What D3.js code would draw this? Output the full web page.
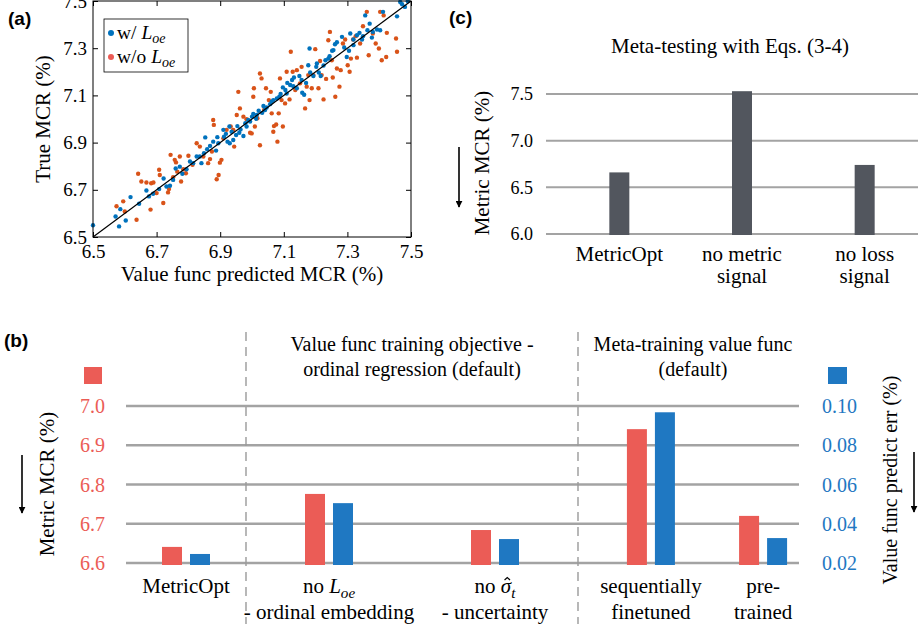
<!DOCTYPE html>
<html>
<head>
<meta charset="utf-8">
<script src="https://cdn.jsdelivr.net/npm/d3@7"></script>
<style>
	body { margin: 0; background: #fff; }
	svg { display: block; }
	svg text { font-family: 'Liberation Serif', 'DejaVu Serif', serif; }
	svg text.panel { font-family: 'Liberation Sans', Arial, sans-serif; font-weight: bold; }
</style>
</head>
<body>
<svg id="fig" width="918" height="632"></svg>
<script>
// (a) value func predicted vs true MCR
const scatterTicks = [6.5, 6.7, 6.9, 7.1, 7.3, 7.5]
const withLoe = [
	[6.50, 6.55], [6.571, 6.587], [6.582, 6.545], [6.586, 6.618], [6.603, 6.57], [6.618, 6.669],
	[6.645, 6.641], [6.668, 6.697], [6.676, 6.672], [6.689, 6.683], [6.708, 6.703], [6.722, 6.748],
	[6.731, 6.714], [6.742, 6.717], [6.752, 6.742], [6.76, 6.79], [6.773, 6.798], [6.781, 6.768],
	[6.794, 6.787], [6.805, 6.82], [6.815, 6.813], [6.826, 6.841], [6.836, 6.841], [6.841, 6.813],
	[6.849, 6.855], [6.853, 6.922], [6.859, 6.872], [6.868, 6.886], [6.878, 6.904], [6.887, 6.866],
	[6.891, 6.923], [6.894, 6.897], [6.91, 6.954], [6.912, 6.925], [6.918, 6.937], [6.923, 6.904],
	[6.929, 6.968], [6.93, 6.897], [6.936, 6.946], [6.941, 6.911], [6.95, 6.932], [6.954, 6.97],
	[6.96, 6.942], [6.964, 6.956], [6.973, 6.928], [6.979, 6.982], [6.983, 6.968], [6.988, 6.996],
	[6.994, 6.989], [7.0, 7.01], [7.004, 7.021], [7.013, 7.001], [7.015, 7.017], [7.021, 7.035],
	[7.032, 7.026], [7.036, 7.055], [7.041, 7.038], [7.046, 7.049], [7.057, 7.063], [7.062, 7.073],
	[7.067, 7.08], [7.078, 7.087], [7.086, 7.094], [7.09, 7.106], [7.097, 7.134], [7.105, 7.123],
	[7.109, 7.108], [7.111, 7.153], [7.12, 7.144], [7.126, 7.165], [7.13, 7.139], [7.132, 7.176],
	[7.141, 7.13], [7.149, 7.182], [7.156, 7.165], [7.158, 7.111], [7.164, 7.103], [7.17, 7.153],
	[7.177, 7.228], [7.181, 7.299], [7.183, 7.197], [7.193, 7.182], [7.202, 7.221], [7.204, 7.235],
	[7.21, 7.197], [7.216, 7.182], [7.225, 7.227], [7.231, 7.249], [7.24, 7.256], [7.244, 7.266],
	[7.252, 7.289], [7.256, 7.292], [7.261, 7.317], [7.267, 7.325], [7.283, 7.348], [7.29, 7.303],
	[7.298, 7.263], [7.305, 7.289], [7.309, 7.362], [7.319, 7.337], [7.319, 7.313], [7.33, 7.355],
	[7.338, 7.365], [7.346, 7.337], [7.349, 7.351], [7.356, 7.439], [7.363, 7.376], [7.37, 7.404],
	[7.377, 7.345], [7.38, 7.369], [7.393, 7.379], [7.403, 7.376], [7.412, 7.454], [7.456, 7.435],
	[7.466, 7.496], [7.472, 7.486], [7.481, 7.475], [7.49, 7.499]
]
const withoutLoe = [
	[6.574, 6.63], [6.595, 6.651], [6.60, 6.608], [6.642, 6.768], [6.637, 6.573], [6.652, 6.735],
	[6.668, 6.731], [6.681, 6.616], [6.683, 6.728], [6.69, 6.731], [6.70, 6.686], [6.708, 6.785],
	[6.71, 6.763], [6.721, 6.644], [6.736, 6.689], [6.739, 6.703], [6.744, 6.848], [6.752, 6.753],
	[6.757, 6.827], [6.761, 6.816], [6.765, 6.777], [6.773, 6.841], [6.777, 6.735], [6.784, 6.787],
	[6.792, 6.77], [6.80, 6.844], [6.813, 6.806], [6.826, 6.897], [6.836, 6.883], [6.847, 6.841],
	[6.862, 6.813], [6.868, 6.83], [6.874, 6.862], [6.878, 6.996], [6.88, 6.975], [6.889, 6.745],
	[6.895, 6.763], [6.899, 6.815], [6.904, 6.827], [6.91, 6.918], [6.92, 6.954], [6.933, 6.968],
	[6.941, 6.954], [6.944, 6.883], [6.952, 7.017], [6.957, 7.115], [6.962, 7.045], [6.973, 7.01],
	[6.983, 6.999], [6.994, 6.942], [6.999, 6.939], [7.004, 7.094], [7.006, 7.13], [7.009, 6.968],
	[7.017, 7.003], [7.025, 7.193], [7.03, 7.172], [7.025, 6.889], [7.038, 7.038], [7.044, 7.13],
	[7.053, 7.08], [7.059, 7.115], [7.062, 7.024], [7.067, 6.946], [7.069, 6.97], [7.076, 6.977],
	[7.08, 6.904], [7.084, 7.024], [7.088, 7.172], [7.093, 7.08], [7.097, 6.968], [7.104, 7.066],
	[7.109, 7.20], [7.118, 7.083], [7.122, 7.285], [7.128, 7.20], [7.136, 7.123], [7.141, 7.207],
	[7.151, 7.151], [7.156, 7.221], [7.167, 7.045], [7.172, 7.137], [7.177, 7.186], [7.181, 7.08],
	[7.188, 7.13], [7.193, 7.186], [7.199, 7.296], [7.209, 7.13], [7.214, 7.246], [7.219, 7.186],
	[7.225, 7.083], [7.233, 7.17], [7.24, 7.334], [7.245, 7.369], [7.251, 7.249], [7.254, 7.176],
	[7.262, 7.094], [7.267, 7.214], [7.275, 7.137], [7.279, 7.207], [7.286, 7.32], [7.293, 7.337],
	[7.301, 7.228], [7.307, 7.20], [7.311, 7.256], [7.318, 7.337], [7.326, 7.351], [7.33, 7.26],
	[7.34, 7.32], [7.349, 7.393], [7.361, 7.454], [7.367, 7.27], [7.38, 7.362], [7.389, 7.32],
	[7.399, 7.299], [7.403, 7.454], [7.408, 7.249], [7.414, 7.439], [7.424, 7.365], [7.422, 7.263],
	[7.453, 7.341], [7.456, 7.285]
]

// (b) ablation of value func training
const ablationGroups = ['MetricOpt', 'noLoe', 'noSigma', 'sequential', 'pretrained']
const ablationSection = [0, 1, 1, 2, 2]
const ablationMcr = [6.641, 6.776, 6.684, 6.941, 6.72]
const ablationErr = [0.0246, 0.0505, 0.0322, 0.0968, 0.0327]
const mcrTicks = [6.6, 6.7, 6.8, 6.9, 7.0]
const errTicks = [0.02, 0.04, 0.06, 0.08, 0.1]
const sectionTitles = [
	[],
	['Value func training objective -', 'ordinal regression (default)'],
	['Meta-training value func', '(default)']
]
// each label line is a list of [text, style] pieces (i = italic, s = subscript, h = hat)
const ablationLabels = [
	[[['MetricOpt']]],
	[[['no '], ['L', 'i'], ['oe', 'is']], [['- ordinal embedding']]],
	[[['no '], ['σ', 'ih'], ['t', 'is']], [['- uncertainty']]],
	[[['sequentially']], [['finetuned']]],
	[[['pre-']], [['trained']]]
]

// (c) meta-testing
const testCategories = ['MetricOpt', 'no metric signal', 'no loss signal']
const testLabels = [['MetricOpt'], ['no metric', 'signal'], ['no loss', 'signal']]
const testMcr = [6.66, 7.53, 6.74]
const testTicks = [6.0, 6.5, 7.0, 7.5]

const COLORS = {
	blueDot: '#0072BD',
	orangeDot: '#D95319',
	legendRed: '#EC5B55',
	red: '#EB5C56',
	blue: '#1F78C2',
	grid: '#A3A3A3',
	darkBar: '#52565E',
	dash: '#9A9A9A'
}

const svg = d3.select('#fig')

svg.append('defs')
	.append('marker')
	.attr('id', 'arrow')
	.attr('viewBox', '0 0 10 10')
	.attr('refX', 9)
	.attr('refY', 5)
	.attr('markerWidth', 7)
	.attr('markerHeight', 7)
	.attr('markerUnits', 'userSpaceOnUse')
	.attr('orient', 'auto')
	.append('path')
	.attr('d', 'M0,0 L10,5 L0,10 z')
	.attr('fill', '#000')

function richText(sel, x, y, pieces, size, anchor = 'middle') {
	const t = sel.append('text')
		.attr('x', x)
		.attr('y', y)
		.attr('text-anchor', anchor)
		.attr('font-size', size)
	let shifted = false
	let charIndex = 0
	const hats = []
	pieces.forEach(([txt, style = '']) => {
		const sp = t.append('tspan').text(txt)
		if (style.includes('i')) sp.attr('font-style', 'italic')
		if (style.includes('h')) hats.push(charIndex)
		if (style.includes('s')) {
			sp.attr('font-size', size * 0.72)
			if (!shifted) sp.attr('dy', size * 0.22)
			shifted = true
		} else if (shifted) {
			sp.attr('dy', -size * 0.22)
			shifted = false
		}
		charIndex += txt.length
	})
	// a small caret drawn above the hatted glyph
	hats.forEach(ci => {
		const box = t.node().getExtentOfChar(ci)
		const cx = box.x + box.width / 2 + size * 0.06
		const top = y - size * 0.74
		const w = size * 0.13
		sel.append('path')
			.attr('d', `M${cx - w},${top + size * 0.12} L${cx},${top} L${cx + w},${top + size * 0.12}`)
			.attr('fill', 'none')
			.attr('stroke', '#000')
			.attr('stroke-width', 1.2)
	})
	return t
}

function panelLabel(x, y, txt) {
	svg.append('text')
		.attr('class', 'panel')
		.attr('x', x)
		.attr('y', y)
		.attr('font-size', 19)
		.text(txt)
}

function arrowDown(x, y1, y2) {
	svg.append('line')
		.attr('x1', x).attr('x2', x)
		.attr('y1', y1).attr('y2', y2)
		.attr('stroke', '#000')
		.attr('stroke-width', 1.6)
		.attr('marker-end', 'url(#arrow)')
}

function rotatedLabel(x, y, txt, size, color = '#000') {
	svg.append('text')
		.attr('transform', `translate(${x},${y}) rotate(-90)`)
		.attr('text-anchor', 'middle')
		.attr('dy', '0.35em')
		.attr('font-size', size)
		.attr('fill', color)
		.text(txt)
}

function styleAxis(g, size, color = '#000') {
	g.attr('font-family', null).attr('font-size', size)
	g.selectAll('.tick text').attr('fill', color)
	g.select('.domain').remove()
}

// ---------- panel (a) ----------
function drawScatter() {
	const x = d3.scaleLinear().domain([6.5, 7.5]).range([93, 411])
	const y = d3.scaleLinear().domain([6.5, 7.5]).range([237, 1])
	const g = svg.append('g')
	const fmt = d3.format('.1f')

	g.append('g')
		.attr('transform', `translate(0,${y.range()[0]})`)
		.call(d3.axisBottom(x).tickValues(scatterTicks).tickSize(-5).tickPadding(8).tickFormat(fmt))
		.call(a => styleAxis(a, 19))
	g.append('g')
		.attr('transform', `translate(0,${y.range()[1]})`)
		.call(d3.axisTop(x).tickValues(scatterTicks).tickSize(-5).tickFormat(''))
		.call(a => styleAxis(a, 19))
	g.append('g')
		.attr('transform', `translate(${x.range()[0]},0)`)
		.call(d3.axisLeft(y).tickValues(scatterTicks).tickSize(-5).tickPadding(6).tickFormat(fmt))
		.call(a => styleAxis(a, 19))
	g.append('g')
		.attr('transform', `translate(${x.range()[1]},0)`)
		.call(d3.axisRight(y).tickValues(scatterTicks).tickSize(-5).tickFormat(''))
		.call(a => styleAxis(a, 19))

	g.append('g')
		.selectAll('circle')
		.data(withoutLoe)
		.join('circle')
		.attr('cx', d => x(d[0]))
		.attr('cy', d => y(d[1]))
		.attr('r', 2.2)
		.attr('fill', COLORS.orangeDot)

	g.append('g')
		.selectAll('circle')
		.data(withLoe)
		.join('circle')
		.attr('cx', d => x(d[0]))
		.attr('cy', d => y(d[1]))
		.attr('r', 2.2)
		.attr('fill', COLORS.blueDot)

	g.append('line')
		.attr('x1', x(6.5)).attr('y1', y(6.5))
		.attr('x2', x(7.5)).attr('y2', y(7.5))
		.attr('stroke', '#000')
		.attr('stroke-width', 1.2)

	g.append('rect')
		.attr('x', x.range()[0]).attr('y', y.range()[1])
		.attr('width', x.range()[1] - x.range()[0])
		.attr('height', y.range()[0] - y.range()[1])
		.attr('fill', 'none')
		.attr('stroke', '#000')
		.attr('stroke-width', 1)

	// legend
	const lg = g.append('g')
	lg.append('rect')
		.attr('x', 104).attr('y', 19)
		.attr('width', 84).attr('height', 53)
		.attr('fill', '#fff')
		.attr('stroke', '#000')
		.attr('stroke-width', 0.8)
	const entries = [
		{ color: COLORS.blueDot, pieces: [['w/ '], ['L', 'i'], ['oe', 'is']] },
		{ color: COLORS.legendRed, pieces: [['w/o '], ['L', 'i'], ['oe', 'is']] }
	]
	entries.forEach((e, i) => {
		const cy = 33 + i * 24
		lg.append('circle').attr('cx', 111).attr('cy', cy).attr('r', 3).attr('fill', e.color)
		richText(lg, 117, cy + 6, e.pieces, 19.5, 'start')
	})

	svg.append('text')
		.attr('x', (x.range()[0] + x.range()[1]) / 2)
		.attr('y', 281)
		.attr('text-anchor', 'middle')
		.attr('font-size', 21)
		.text('Value func predicted MCR (%)')
	rotatedLabel(43, 119, 'True MCR (%)', 21)
	panelLabel(8, 25, '(a)')
}

// ---------- panel (c) ----------
function drawMetaTesting() {
	const x = d3.scaleBand().domain(testCategories).range([558, 926])
	const y = d3.scaleLinear().domain([6.0, 7.5]).range([234, 94])
	const g = svg.append('g')
	const barW = 20

	g.append('g')
		.selectAll('line')
		.data(testTicks)
		.join('line')
		.attr('x1', 546).attr('x2', 918)
		.attr('y1', d => y(d)).attr('y2', d => y(d))
		.attr('stroke', COLORS.grid)
		.attr('stroke-width', 2)

	g.append('g')
		.selectAll('text')
		.data(testTicks)
		.join('text')
		.attr('x', 533)
		.attr('y', d => y(d))
		.attr('dy', '0.35em')
		.attr('text-anchor', 'end')
		.attr('font-size', 18)
		.text(d3.format('.1f'))

	g.append('g')
		.selectAll('rect')
		.data(testMcr)
		.join('rect')
		.attr('x', (d, i) => x(testCategories[i]) + x.bandwidth() / 2 - barW / 2)
		.attr('y', d => y(d))
		.attr('width', barW)
		.attr('height', d => y(6.0) - y(d) + 1)
		.attr('fill', COLORS.darkBar)

	testLabels.forEach((lines, i) => {
		const cx = x(testCategories[i]) + x.bandwidth() / 2
		lines.forEach((ln, j) => {
			g.append('text')
				.attr('x', cx)
				.attr('y', 261 + j * 22)
				.attr('text-anchor', 'middle')
				.attr('font-size', 21)
				.text(ln)
		})
	})

	svg.append('text')
		.attr('x', 730)
		.attr('y', 53)
		.attr('text-anchor', 'middle')
		.attr('font-size', 21)
		.text('Meta-testing with Eqs. (3-4)')
	rotatedLabel(482, 163, 'Metric MCR (%)', 21)
	arrowDown(459, 147, 207)
	panelLabel(449, 24, '(c)')
}

// ---------- panel (b) ----------
function drawAblation() {
	const yL = d3.scaleLinear().domain([6.6, 7.0]).range([563, 406])
	const yR = d3.scaleLinear().domain([0.02, 0.1]).range([563, 406])
	const sectionEdges = [126, 246, 578, 836]
	const sectionPadding = [0.5, 0.5, 0.65]
	const sectionScales = sectionTitles.map((t, s) =>
		d3.scalePoint()
			.domain(ablationGroups.filter((g, i) => ablationSection[i] === s))
			.range([sectionEdges[s], sectionEdges[s + 1]])
			.padding(sectionPadding[s])
	)
	const xCenter = i => sectionScales[ablationSection[i]](ablationGroups[i])
	const inner = d3.scaleBand().domain(['mcr', 'err']).range([-24, 24]).paddingInner(0.286)
	const g = svg.append('g')

	g.append('g')
		.selectAll('line')
		.data(mcrTicks)
		.join('line')
		.attr('x1', 126).attr('x2', 799)
		.attr('y1', d => yL(d)).attr('y2', d => yL(d))
		.attr('stroke', COLORS.grid)
		.attr('stroke-width', 2.6)

	// section separators
	g.append('g')
		.selectAll('line')
		.data(sectionEdges.slice(1, -1))
		.join('line')
		.attr('x1', d => d).attr('x2', d => d)
		.attr('y1', 332).attr('y2', 624)
		.attr('stroke', COLORS.dash)
		.attr('stroke-width', 1.4)
		.attr('stroke-dasharray', '9,6')

	g.append('g')
		.selectAll('rect')
		.data(ablationMcr)
		.join('rect')
		.attr('x', (d, i) => xCenter(i) + inner('mcr'))
		.attr('y', d => yL(d))
		.attr('width', inner.bandwidth())
		.attr('height', d => yL(6.6) - yL(d) + 2)
		.attr('fill', COLORS.red)

	g.append('g')
		.selectAll('rect')
		.data(ablationErr)
		.join('rect')
		.attr('x', (d, i) => xCenter(i) + inner('err'))
		.attr('y', d => yR(d))
		.attr('width', inner.bandwidth())
		.attr('height', d => yR(0.02) - yR(d) + 2)
		.attr('fill', COLORS.blue)

	g.append('g')
		.selectAll('text')
		.data(mcrTicks)
		.join('text')
		.attr('x', 105)
		.attr('y', d => yL(d))
		.attr('dy', '0.35em')
		.attr('text-anchor', 'end')
		.attr('font-size', 20)
		.attr('fill', COLORS.red)
		.text(d3.format('.1f'))

	g.append('g')
		.selectAll('text')
		.data(errTicks)
		.join('text')
		.attr('x', 822)
		.attr('y', d => yR(d))
		.attr('dy', '0.35em')
		.attr('text-anchor', 'start')
		.attr('font-size', 20)
		.attr('fill', COLORS.blue)
		.text(d3.format('.2f'))

	ablationLabels.forEach((lines, i) => {
		lines.forEach((pieces, j) => {
			richText(g, xCenter(i), 593 + j * 26, pieces, 21)
		})
	})

	sectionTitles.forEach((lines, s) => {
		lines.forEach((ln, j) => {
			g.append('text')
				.attr('x', (sectionEdges[s] + sectionEdges[s + 1]) / 2 + (s === 2 ? -14 : 0))
				.attr('y', 351 + j * 25)
				.attr('text-anchor', 'middle')
				.attr('font-size', 20)
				.text(ln)
		})
	})

	// colour keys for the two axes
	g.append('rect').attr('x', 84).attr('y', 367).attr('width', 18).attr('height', 17).attr('fill', COLORS.red)
	g.append('rect').attr('x', 828).attr('y', 367).attr('width', 19).attr('height', 17).attr('fill', COLORS.blue)

	rotatedLabel(47, 484, 'Metric MCR (%)', 21)
	rotatedLabel(890, 480, 'Value func predict err (%)', 20)
	arrowDown(22, 455, 513)
	arrowDown(914, 452, 512)
	panelLabel(4, 347, '(b)')
}

drawScatter()
drawMetaTesting()
drawAblation()
</script>
</body>
</html>
